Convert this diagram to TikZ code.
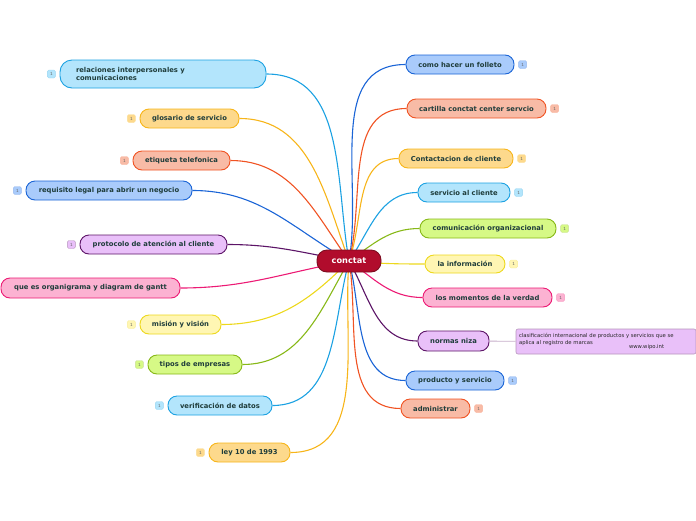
\documentclass[tikz,border=0pt]{standalone}
\usepackage{fontspec}
\setsansfont{DejaVu Sans}
\usetikzlibrary{positioning, backgrounds}
\definecolor{txtcol}{HTML}{1F3D3B}
\definecolor{rootfill}{HTML}{B10C2C}
\definecolor{rootline}{HTML}{7C0C20}
\definecolor{bluefill}{HTML}{A9CBFB}
\definecolor{blueline}{HTML}{1A64D6}
\definecolor{cyanfill}{HTML}{B3E5FC}
\definecolor{cyanline}{HTML}{1BA1E2}
\definecolor{orgfill}{HTML}{FDD98C}
\definecolor{orgline}{HTML}{F7B51A}
\definecolor{salfill}{HTML}{F8BBA6}
\definecolor{salline}{HTML}{F05323}
\definecolor{purfill}{HTML}{E9C0F9}
\definecolor{purline}{HTML}{5C1467}
\definecolor{pinkfill}{HTML}{FCB2D2}
\definecolor{pinkline}{HTML}{EC1A74}
\definecolor{yelfill}{HTML}{FFF6B3}
\definecolor{yelline}{HTML}{EDD81D}
\definecolor{grnfill}{HTML}{D6F986}
\definecolor{grnline}{HTML}{87B817}
\tikzset{
  topic/.style  = {rounded corners=9pt, minimum height=19pt, inner sep=2pt,
                   line width=0.9pt, text=txtcol,
                   font=\sffamily\bfseries\fontsize{6.8}{8}\selectfont},
  tblue/.style  = {topic, fill=bluefill, draw=blueline},
  tcyan/.style  = {topic, fill=cyanfill, draw=cyanline},
  torg/.style   = {topic, fill=orgfill, draw=orgline},
  tsal/.style   = {topic, fill=salfill, draw=salline},
  tpur/.style   = {topic, fill=purfill, draw=purline},
  tpink/.style  = {topic, fill=pinkfill, draw=pinkline},
  tyel/.style   = {topic, fill=yelfill, draw=yelline},
  tgrn/.style   = {topic, fill=grnfill, draw=grnline},
  badge/.style 2 args = {fill=#1, draw=#2!45, rounded corners=1.5pt,
                   minimum size=8pt, inner sep=0pt, text=black!60,
                   font=\sffamily\fontsize{4.2}{4.2}\selectfont},
  link/.style   = {line width=1.1pt},
}

\begin{document}
\begin{tikzpicture}[x=1pt, y=-1pt]
  \useasboundingbox (0,0) rectangle (696,520);
  % central topic
  \node[rounded corners=10pt, fill=rootfill, draw=rootline, line width=0.9pt,
        minimum width=64pt, minimum height=22pt, text=white,
        font=\sffamily\bfseries\fontsize{8.2}{9}\selectfont] (root) at (349,261) {conctat};

  % left branches
  \node[tcyan, rounded corners=12pt, minimum width=206pt, minimum height=28pt,
        text width=174pt, align=left] (l1) at (163,74)
        {relaciones interpersonales y\\comunicaciones};
  \node[torg, minimum width=99pt] (l2) at (189.5,118.5) {glosario de servicio};
  \node[tsal, minimum width=97pt] (l3) at (181.5,160.5) {etiqueta telefonica};
  \node[tblue, minimum width=166pt] (l4) at (109,190.5) {requisito legal para abrir un negocio};
  \node[tpur, minimum width=147pt] (l5) at (153.5,244.5) {protocolo de atención al cliente};
  \node[tpink, minimum width=179pt, minimum height=20pt] (l6) at (90.5,288) {que es organigrama y diagram de gantt};
  \node[tyel, minimum width=81pt] (l7) at (180.5,324.5) {misión y visión};
  \node[tgrn, minimum width=94pt] (l8) at (195,364.5) {tipos de empresas};
  \node[tcyan, minimum width=104pt] (l9) at (220,405.5) {verificación de datos};
  \node[torg, minimum width=81pt] (l10) at (249.5,452.5) {ley 10 de 1993};

  % right branches
  \node[tblue, minimum width=108pt] (r1) at (460,64.5) {como hacer un folleto};
  \node[tsal, minimum width=139pt] (r2) at (476.5,108.5) {cartilla conctat center servcio};
  \node[torg, minimum width=114pt] (r3) at (456,158.5) {Contactacion de cliente};
  \node[tcyan, minimum width=92pt] (r4) at (464,192.5) {servicio al cliente};
  \node[tgrn, minimum width=136pt] (r5) at (488,228.5) {comunicación organizacional};
  \node[tyel, minimum width=80pt, minimum height=18pt] (r6) at (465,264) {la información};
  \node[tpink, minimum width=129pt] (r7) at (487.5,297.5) {los momentos de la verdad};
  \node[tpur, minimum width=71pt, minimum height=20pt] (r8) at (453.5,341) {normas niza};
  \node[tblue, minimum width=98pt] (r9) at (455,380.5) {producto y servicio};
  \node[tsal, minimum width=69pt] (r10) at (435.5,408.5) {administrar};

  % note on normas niza
  \node[fill=purfill, draw=purline!45, rounded corners=2pt, line width=0.6pt,
        minimum width=180pt, minimum height=25pt, text width=174pt, align=left,
        inner sep=3pt, text=black!85, font=\sffamily\fontsize{5.3}{6.5}\selectfont]
        (note) at (606,341.5)
        {clasificación internacional de productos y servicios que se\\
         aplica al registro de marcas\\[-2.5pt]
         \hspace*{110pt}www.wipo.int};
  \draw[purline!35, line width=0.8pt] (r8) -- (note);

  % counters
  \node[badge={cyanfill}{cyanline}] (b-l1) [left=4pt of l1] {1};
  \node[badge={orgfill}{orgline}] (b-l2) [left=4pt of l2] {1};
  \node[badge={salfill}{salline}] (b-l3) [left=4pt of l3] {1};
  \node[badge={bluefill}{blueline}] (b-l4) [left=4pt of l4] {1};
  \node[badge={purfill}{purline}] (b-l5) [left=4pt of l5] {1};
  \node[badge={yelfill}{yelline}] (b-l7) [left=4pt of l7] {1};
  \node[badge={grnfill}{grnline}] (b-l8) [left=4pt of l8] {1};
  \node[badge={cyanfill}{cyanline}] (b-l9) [left=4pt of l9] {1};
  \node[badge={orgfill}{orgline}] (b-l10) [left=4pt of l10] {1};
  \node[badge={bluefill}{blueline}] (b-r1) [right=4pt of r1] {1};
  \node[badge={salfill}{salline}] (b-r2) [right=4pt of r2] {1};
  \node[badge={orgfill}{orgline}] (b-r3) [right=4pt of r3] {1};
  \node[badge={cyanfill}{cyanline}] (b-r4) [right=4pt of r4] {1};
  \node[badge={grnfill}{grnline}] (b-r5) [right=4pt of r5] {1};
  \node[badge={yelfill}{yelline}] (b-r6) [right=4pt of r6] {1};
  \node[badge={pinkfill}{pinkline}] (b-r7) [right=4pt of r7] {1};
  \node[badge={bluefill}{blueline}] (b-r9) [right=4pt of r9] {1};
  \node[badge={salfill}{salline}] (b-r10) [right=4pt of r10] {1};

  % branch lines
  \begin{scope}[on background layer]
    \foreach \n/\c/\a in {l1/cyanline/100, l2/orgline/110, l3/salline/125,
                          l4/blueline/150, l5/purline/170, l6/pinkline/190,
                          l7/yelline/225, l8/grnline/240, l9/cyanline/255,
                          l10/orgline/265} {
      \draw[link, \c] (\n.east) to[out=0, in=\a] (root.center);
    }
    \foreach \n/\c/\a in {r1/blueline/80, r2/salline/75, r3/orgline/70,
                          r4/cyanline/55, r5/grnline/35, r6/yelline/-5,
                          r7/pinkline/-35, r8/purline/-60, r9/blueline/-75,
                          r10/salline/-80} {
      \draw[link, \c] (root.center) to[out=\a, in=180] (\n.west);
    }
  \end{scope}
\end{tikzpicture}
\end{document}
